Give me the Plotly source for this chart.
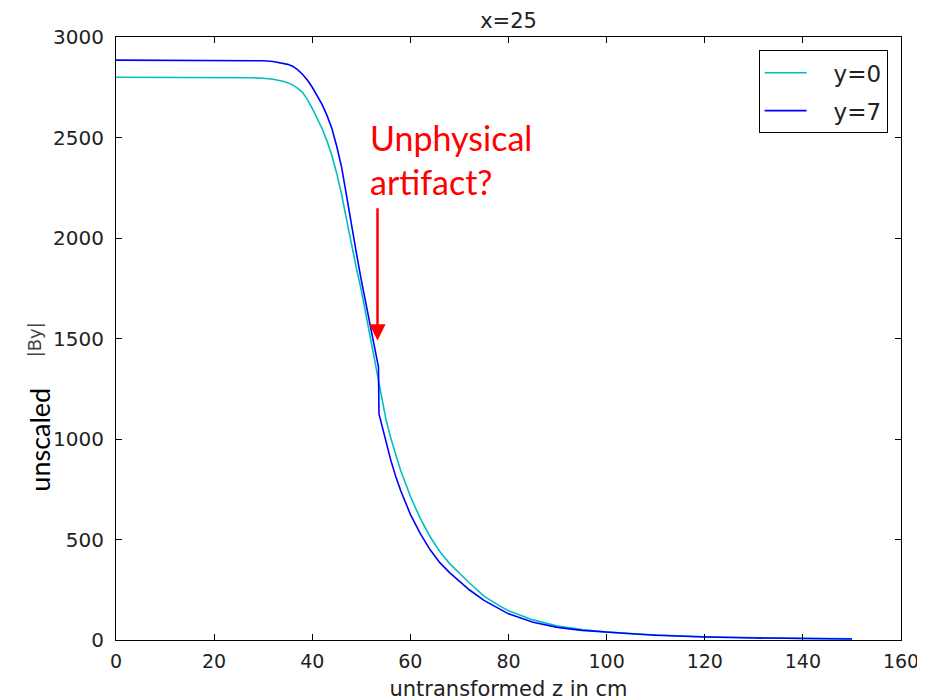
import plotly.graph_objects as go

# y=0 series (cyan)
z_y0 = [0, 10, 20, 25, 28, 30, 32, 34, 35, 36, 37, 38, 39, 40, 41, 42, 43, 44, 45, 46, 47, 48, 49, 50,
        52, 53, 54, 55, 56, 57, 58, 60, 62, 64, 66, 68, 70, 72, 75, 78, 80, 85, 90, 95, 100, 105, 110,
        120, 130, 140, 150]
by_y0 = [2800, 2800, 2799, 2798, 2797, 2795, 2790, 2780, 2773, 2762, 2746, 2725, 2690, 2645, 2598, 2545,
         2482, 2410, 2320, 2215, 2090, 1960, 1850, 1740, 1480, 1340, 1215, 1100, 1005, 920, 845, 715,
         605, 515, 440, 380, 330, 285, 218, 172, 146, 100, 70, 52, 40, 32, 25, 16, 11, 8, 6]

# y=7 series (blue), with the jump near z=53.5
z_y7 = [0, 10, 20, 25, 28, 30, 32, 34, 35, 36, 37, 38, 39, 40, 41, 42, 43, 44, 45, 46, 47, 48, 49, 50,
        51, 52, 53, 53.5, 53.6, 54, 55, 56, 57, 58, 60, 62, 64, 66, 68, 70, 72, 75, 78, 80, 85, 90,
        95, 100, 105, 110, 120, 130, 140, 150]
by_y7 = [2885, 2885, 2885, 2884, 2883, 2882, 2878, 2870, 2864, 2855, 2838, 2815, 2786, 2750, 2710, 2665,
         2610, 2545, 2455, 2350, 2210, 2060, 1925, 1790, 1667, 1543, 1420, 1358, 1125, 1085, 985, 895,
         815, 745, 625, 530, 450, 385, 335, 290, 250, 197, 155, 130, 88, 63, 48, 38, 31, 24, 15, 10, 7, 5]

x_ticks = [0, 20, 40, 60, 80, 100, 120, 140, 160]
y_ticks = [0, 500, 1000, 1500, 2000, 2500, 3000]

fig = go.Figure()
fig.add_trace(go.Scatter(x=z_y0, y=by_y0, mode="lines", name="&nbsp;&nbsp;&nbsp;y=0",
                         legendgroup="g0",
                         line=dict(color="#00BFBF", width=1.6)))
fig.add_trace(go.Scatter(x=z_y7, y=by_y7, mode="lines", name="&nbsp;&nbsp;&nbsp;y=7",
                         legendgroup="g7",
                         line=dict(color="#0000FF", width=1.6)))

axis_common = dict(showline=True, linecolor="black", linewidth=1, mirror="allticks",
                   ticks="inside", ticklen=6, tickcolor="black", showgrid=False, zeroline=False,
                   automargin=False)

fig.update_xaxes(range=[0, 160], tickvals=x_ticks, ticklabelstandoff=4,
                 tickfont=dict(family="DejaVu Sans", size=19, color="#222"),
                 title=dict(text="untransformed z in cm", font=dict(family="DejaVu Sans", size=21, color="#222"),
                            standoff=10),
                 **axis_common)
fig.update_yaxes(range=[0, 3000], tickvals=y_ticks, ticklabelstandoff=7,
                 tickfont=dict(family="DejaVu Sans", size=20, color="#222"),
                 **axis_common)

# Y-axis label pieces (placed as in the reference, off-centre)
fig.add_annotation(x=-0.097, y=0.332, xref="paper", yref="paper", text="unscaled",
                   textangle=-90, showarrow=False, xanchor="center", yanchor="middle",
                   font=dict(family="Lato", size=27, color="black"))
fig.add_annotation(x=-0.104, y=0.4975, xref="paper", yref="paper", text="|By|",
                   textangle=-90, showarrow=False, xanchor="center", yanchor="middle",
                   font=dict(family="DejaVu Sans", size=18, color="#444"))

# Red annotation: text and arrow
fig.add_annotation(x=51.4, y=2390, xref="x", yref="y", text="Unphysical<br>artifact?",
                   showarrow=False, xanchor="left", yanchor="middle", align="left",
                   font=dict(family="Lato", size=34, color="#FF0000"))
fig.add_annotation(x=53.3, y=1490, ax=53.3, ay=2155, xref="x", yref="y", axref="x", ayref="y",
                   text="", showarrow=True, arrowhead=2, arrowsize=1.3, arrowwidth=2.5,
                   arrowcolor="#FF0000")

fig.update_layout(
    width=925, height=700,
    margin=dict(l=108, r=32, t=29, b=68, autoexpand=False),
    paper_bgcolor="white", plot_bgcolor="white",
    title=dict(text="x=25", x=0.5, xref="paper", xanchor="center", y=1 - 13 / 700, yref="container",
               yanchor="middle",
               font=dict(family="DejaVu Sans", size=21, color="#222")),
    legend=dict(x=0.983, y=0.978, xanchor="right", yanchor="top",
                bordercolor="black", borderwidth=1, bgcolor="white",
                font=dict(family="DejaVu Sans", size=23, color="#222"),
                itemwidth=42, traceorder="grouped", tracegroupgap=5),
    showlegend=True,
)

fig.write_html("out.html")
